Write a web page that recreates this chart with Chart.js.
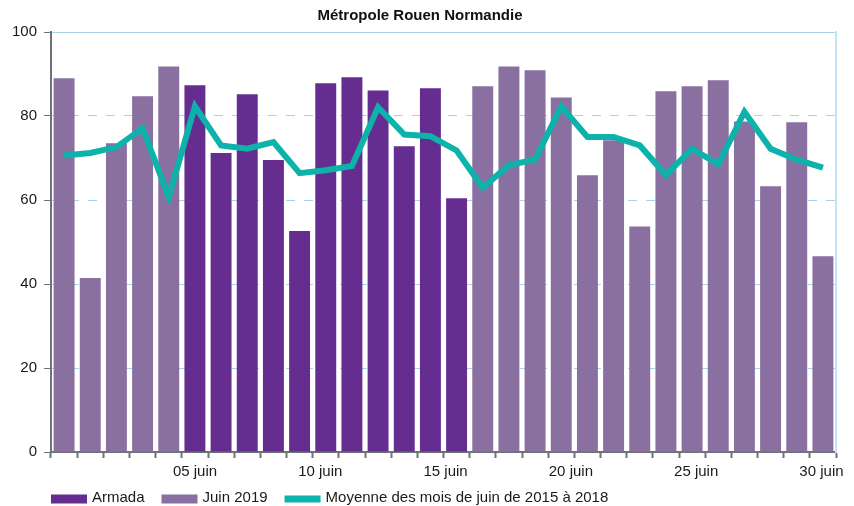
<!DOCTYPE html>
<html>
<head>
<meta charset="utf-8">
<script src="https://cdn.jsdelivr.net/npm/chart.js@4"></script>
<style>
  html, body { margin: 0; padding: 0; background: #fff; }
  #wrap { width: 854px; height: 506px; }
</style>
</head>
<body>
<div id="wrap"><canvas id="chart" width="854" height="506"></canvas></div>
<script>
// Days of June 2019
const days = [1, 2, 3, 4, 5, 6, 7, 8, 9, 10, 11, 12, 13, 14, 15,
              16, 17, 18, 19, 20, 21, 22, 23, 24, 25, 26, 27, 28, 29, 30];

// Armada days (6 to 16 June)
const armada = [null, null, null, null, null, 87.3, 71.2, 85.2, 69.5, 52.6, 87.8, 89.2, 86.1, 72.8, 86.6,
                60.4, null, null, null, null, null, null, null, null, null, null, null, null, null, null];

// Other days of June 2019
const juin2019 = [89.0, 41.4, 73.5, 84.7, 91.8, null, null, null, null, null, null, null, null, null, null,
                  null, 87.1, 91.8, 90.9, 84.4, 65.9, 74.2, 53.7, 85.9, 87.1, 88.5, 78.7, 63.3, 78.5, 46.6];

// Average of June 2015-2018
const moyenne = [70.6, 71.2, 72.6, 77.1, 60.7, 82.3, 73.0, 72.2, 73.8, 66.4, 67.1, 68.1, 82.1, 75.6, 75.2,
                 71.8, 62.9, 68.3, 69.6, 82.3, 75.0, 75.0, 73.0, 65.9, 72.2, 68.5, 81.0, 72.2, 69.6, 67.7];

// x tick labels
const tickDays = [5, 10, 15, 20, 25, 30];
const tickLabels = ['05 juin', '10 juin', '15 juin', '20 juin', '25 juin', '30 juin'];

const FONT = "'Liberation Sans', Arial, sans-serif";
const axisGrey = '#6d7379';
const gridBlue = '#a9d1ec';
const textColor = '#1a1a1a';

// Legend drawn under the x axis, starting at the left of the plot
const bottomLegend = {
  id: 'bottomLegend',
  afterDraw(chart) {
    const ctx = chart.ctx;
    const y = 498;
    let x = chart.chartArea.left;
    ctx.save();
    ctx.font = '15px ' + FONT;
    ctx.textBaseline = 'middle';
    chart.data.datasets.forEach(ds => {
      ctx.fillStyle = ds.legendColor;
      ctx.fillRect(x, y + 1 - ds.legendHeight / 2, 36, ds.legendHeight);
      x += 41;
      ctx.fillStyle = textColor;
      ctx.fillText(ds.label, x, y);
      x += ctx.measureText(ds.label).width + 17;
    });
    ctx.restore();
  }
};

const ctx = document.getElementById('chart').getContext('2d');
new Chart(ctx, {
  type: 'bar',
  data: {
    labels: days,
    datasets: [
      {
        label: 'Armada',
        data: armada,
        backgroundColor: '#662d91',
        legendColor: '#662d91',
        legendHeight: 9,
        order: 1
      },
      {
        label: 'Juin 2019',
        data: juin2019,
        backgroundColor: '#8970a0',
        legendColor: '#8970a0',
        legendHeight: 9,
        order: 1
      },
      {
        type: 'line',
        label: 'Moyenne des mois de juin de 2015 à 2018',
        data: moyenne,
        borderColor: '#0db3ab',
        backgroundColor: '#0db3ab',
        legendColor: '#0db3ab',
        legendHeight: 7,
        borderWidth: 6,
        pointRadius: 0,
        tension: 0,
        order: 0
      }
    ]
  },
  options: {
    responsive: false,
    animation: false,
    layout: { padding: { left: 4, right: 18, top: 0, bottom: 20 } },
    datasets: {
      bar: { grouped: false, categoryPercentage: 1, barPercentage: 0.8 }
    },
    scales: {
      x: {
        type: 'category',
        position: 'bottom',
        weight: 0,
        grid: {
          offset: true,
          drawOnChartArea: false,
          tickLength: 6,
          tickColor: axisGrey,
          tickWidth: 2
        },
        ticks: { display: false },
        border: { color: axisGrey, width: 2 }
      },
      xl: {
        type: 'linear',
        position: 'bottom',
        weight: 1,
        offset: false,
        min: -0.746,
        max: 30.58,
        grid: { display: false, drawTicks: false, offset: false },
        border: { display: false },
        afterBuildTicks: scale => { scale.ticks = tickDays.map(v => ({ value: v })); },
        ticks: {
          autoSkip: false,
          maxRotation: 0,
          padding: 5,
          color: textColor,
          font: { family: FONT, size: 15 },
          callback: (value, index) => tickLabels[index]
        }
      },
      y: {
        min: 0,
        max: 100,
        afterFit: scale => { scale.width = 47; },
        ticks: {
          stepSize: 20,
          padding: 7,
          color: textColor,
          font: { family: FONT, size: 15 }
        },
        grid: {
          color: c => (c.tick && c.tick.value === 0) ? 'rgba(0,0,0,0)' : gridBlue,
          tickColor: axisGrey,
          tickLength: 7,
          tickBorderDash: []
        },
        border: {
          color: axisGrey,
          width: 2,
          dash: c => (c.tick && c.tick.value === 100) ? [] : [9, 9]
        }
      },
      y2: {
        type: 'linear',
        position: 'right',
        min: 0,
        max: 100,
        afterFit: scale => { scale.width = 0; },
        grid: { display: false, drawTicks: false },
        ticks: { display: false },
        border: { color: '#c6e3f5', width: 2 }
      }
    },
    plugins: {
      legend: { display: false },
      tooltip: { enabled: false },
      title: {
        display: true,
        text: 'Métropole Rouen Normandie',
        color: '#111',
        font: { family: FONT, size: 15, weight: 'bold' },
        padding: { top: 7, bottom: 7 }
      }
    }
  },
  plugins: [bottomLegend]
});
</script>
</body>
</html>
